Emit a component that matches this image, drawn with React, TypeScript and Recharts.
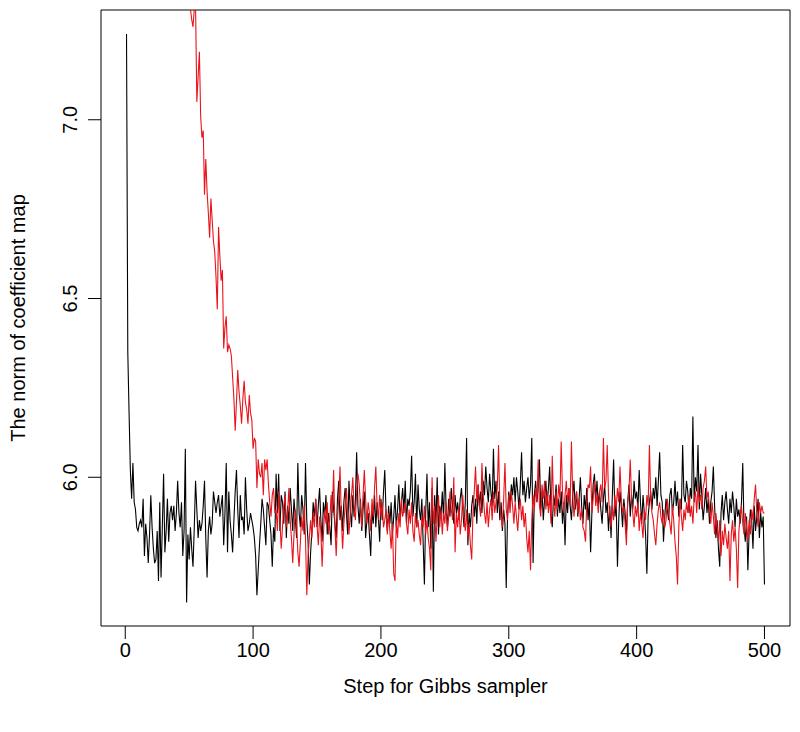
import React from 'react';
import { LineChart, Line, XAxis, YAxis, ReferenceArea, Label } from 'recharts';

// axis ticks
const xTicks = [0, 100, 200, 300, 400, 500];
const yTicks = [6.0, 6.5, 7.0];

// norm of the coefficient map, chain 1 (black)
const blackNorm = [
  7.24, 6.35, 6.18, 6.02, 5.94, 6.04, 5.93, 5.91, 5.86, 5.85,
  5.87, 5.88, 5.86, 5.94, 5.78, 5.87, 5.83, 5.76, 5.84, 5.95,
  5.86, 5.80, 5.76, 5.77, 5.85, 5.71, 5.93, 5.72, 5.86, 6.01,
  5.79, 5.85, 5.94, 5.82, 5.90, 5.92, 5.88, 5.92, 5.85, 5.90,
  5.99, 5.90, 5.86, 5.93, 5.78, 5.85, 6.08, 5.65, 5.84, 5.77,
  5.86, 5.80, 5.75, 5.86, 5.99, 5.91, 5.83, 5.88, 5.85, 5.87,
  5.92, 5.99, 5.83, 5.72, 5.85, 5.89, 5.84, 5.87, 5.96, 5.93,
  5.90, 5.93, 5.95, 5.89, 5.92, 5.95, 5.81, 5.90, 6.04, 5.79,
  5.96, 5.88, 5.84, 5.79, 5.88, 5.96, 6.02, 5.91, 5.83, 5.95,
  5.88, 5.89, 5.84, 6.00, 5.91, 5.85, 5.87, 5.90, 5.88, 5.86,
  5.83, 5.78, 5.67, 5.74, 5.81, 5.87, 5.94, 5.91, 5.86, 5.81,
  5.93, 5.92, 5.88, 5.84, 5.75, 5.86, 5.82, 6.01, 5.90, 6.01,
  5.85, 5.95, 5.93, 5.87, 5.96, 5.83, 5.92, 5.87, 5.97, 5.91,
  5.85, 5.94, 5.89, 5.83, 6.04, 5.90, 5.86, 5.95, 5.91, 5.84,
  6.04, 5.88, 5.82, 5.70, 5.79, 5.85, 5.93, 5.89, 5.94, 5.86,
  5.92, 5.97, 5.88, 5.82, 5.93, 5.89, 5.95, 5.84, 5.90, 5.86,
  5.81, 5.96, 5.91, 5.87, 5.83, 5.94, 5.99, 5.88, 5.92, 5.85,
  5.93, 5.97, 5.90, 5.84, 5.99, 5.91, 5.86, 5.95, 5.89, 5.93,
  6.07, 5.92, 5.87, 5.94, 5.85, 5.91, 5.96, 5.83, 5.88, 5.90,
  5.84, 5.78, 5.91, 5.87, 5.95, 5.86, 5.93, 5.89, 5.82, 5.94,
  5.88, 5.96, 6.02, 5.90, 5.85, 5.92, 5.87, 5.93, 5.84, 5.89,
  5.95, 5.86, 5.91, 5.98, 5.88, 5.93, 5.97, 5.90, 5.99, 5.87,
  5.94, 5.92, 5.96, 6.06, 5.89, 5.93, 6.01, 5.86, 5.98, 5.91,
  5.88, 5.94, 5.82, 5.70, 5.90, 6.01, 5.86, 5.93, 5.80, 5.97,
  5.68, 5.95, 5.87, 6.00, 5.84, 5.92, 5.89, 5.96, 5.88, 6.04,
  5.91, 5.86, 5.94, 5.89, 5.97, 5.92, 5.87, 5.95, 5.90, 5.93,
  5.88, 5.94, 5.97, 5.91, 5.86, 5.93, 6.11, 5.81, 5.90, 5.86,
  5.92, 5.95, 5.89, 5.94, 5.87, 5.98, 5.92, 5.96, 5.90, 5.99,
  5.95, 6.03, 5.97, 5.93, 6.01, 5.96, 5.92, 6.08, 5.94, 5.99,
  5.90, 5.96, 5.88, 5.93, 5.85, 5.91, 5.87, 5.69, 5.89, 5.96,
  5.92, 5.98, 5.95, 6.00, 5.93, 6.00, 5.96, 5.91, 5.98, 6.07,
  5.95, 5.99, 5.93, 5.97, 6.00, 5.94, 5.98, 6.11, 5.76, 5.95,
  5.99, 5.93, 5.97, 6.05, 5.91, 5.96, 5.88, 5.94, 5.99, 5.92,
  5.97, 6.03, 5.90, 5.86, 5.95, 5.92, 5.98, 5.89, 5.94, 5.90,
  5.96, 5.87, 5.93, 5.81, 5.95, 5.90, 5.97, 5.92, 5.88, 5.95,
  5.99, 5.91, 5.96, 5.89, 5.94, 6.00, 5.92, 5.87, 5.95, 5.91,
  5.97, 5.88, 5.93, 5.79, 5.90, 5.98, 6.01, 5.94, 5.99, 5.92,
  5.96, 5.91, 5.87, 5.94, 5.98, 5.90, 5.93, 5.85, 5.92, 5.83,
  5.95, 6.05, 5.89, 5.93, 5.75, 5.88, 5.96, 5.92, 5.86, 5.94,
  5.90, 5.84, 5.93, 5.98, 5.89, 5.95, 5.91, 5.99, 5.94, 5.96,
  5.91, 6.02, 5.93, 5.87, 5.95, 5.90, 5.84, 5.73, 5.89, 5.93,
  5.96, 5.91, 5.97, 5.94, 6.00, 5.92, 5.99, 6.07, 5.95, 5.93,
  5.82, 5.89, 5.94, 5.91, 5.88, 5.95, 5.97, 5.90, 5.93, 5.99,
  5.92, 5.96, 5.89, 5.94, 5.91, 6.09, 5.95, 5.93, 5.99, 5.96,
  5.90, 5.97, 5.94, 6.17, 5.93, 6.00, 5.96, 6.09, 5.91, 6.01,
  5.95, 5.88, 5.92, 5.97, 5.90, 5.94, 5.87, 5.93, 5.96, 6.03,
  5.92, 5.83, 5.88, 5.80, 5.75, 5.90, 5.95, 5.88, 5.93, 5.96,
  5.91, 5.87, 5.94, 5.90, 5.96, 5.92, 5.86, 5.94, 5.89, 5.91,
  5.87, 5.93, 6.04, 5.86, 5.82, 5.89, 5.74, 5.85, 5.91, 5.88,
  5.80, 5.92, 5.85, 5.89, 5.94, 5.83, 5.90, 5.86, 5.89, 5.70,
];

// chain 2 (red), starts far above the plotted range
const redNorm = [
  10.62, 10.41, 10.28, 10.06, 9.93, 9.81, 9.64, 9.55, 9.42, 9.30,
  9.22, 9.08, 8.99, 8.91, 8.80, 8.74, 8.63, 8.57, 8.48, 8.42,
  8.34, 8.29, 8.21, 8.15, 8.09, 8.03, 7.98, 7.93, 7.88, 7.84,
  7.79, 7.76, 7.71, 7.68, 7.64, 7.61, 7.58, 7.55, 7.52, 7.50,
  7.48, 7.45, 7.44, 7.41, 7.40, 7.38, 7.39, 7.36, 7.37, 7.32,
  7.31, 7.28, 7.26, 7.31, 7.32, 7.05, 7.12, 7.19, 7.01, 6.95,
  6.97, 6.79, 6.89, 6.80, 6.74, 6.67, 6.78, 6.72, 6.66, 6.63,
  6.56, 6.47, 6.70, 6.62, 6.55, 6.58, 6.36, 6.42, 6.45, 6.35,
  6.37, 6.36, 6.34, 6.28, 6.22, 6.13, 6.21, 6.30, 6.24, 6.20,
  6.15, 6.22, 6.27, 6.21, 6.19, 6.15, 6.23, 6.18, 6.16, 6.08,
  6.11, 6.10, 5.97, 6.05, 6.01, 6.00, 6.04, 5.95, 6.05, 6.02,
  6.05, 5.98, 5.93, 5.89, 5.95, 5.97, 5.90, 5.91, 5.85, 5.96,
  5.88, 5.80, 5.86, 5.92, 5.95, 5.86, 5.90, 5.97, 5.88, 5.83,
  5.76, 5.84, 5.91, 5.87, 5.79, 5.75, 5.82, 5.89, 5.85, 5.92,
  5.83, 5.67, 5.78, 5.83, 5.88, 5.83, 5.90, 5.86, 5.94, 5.87,
  5.81, 5.89, 5.85, 5.75, 5.84, 5.91, 5.87, 5.93, 5.84, 5.88,
  5.95, 5.90, 6.02, 5.86, 5.78, 5.88, 5.94, 6.03, 5.89, 5.80,
  5.87, 5.92, 5.97, 5.90, 5.84, 5.90, 5.95, 6.00, 5.91, 5.88,
  5.96, 6.01, 5.98, 5.92, 5.86, 5.95, 6.02, 5.94, 5.87, 5.93,
  5.90, 5.85, 5.94, 5.89, 5.97, 6.03, 5.92, 5.88, 5.95, 5.89,
  5.93, 5.86, 5.88, 5.91, 5.84, 5.90, 5.85, 5.80, 5.87, 5.73,
  5.71, 5.88, 5.83, 5.90, 5.86, 5.94, 5.89, 5.91, 5.93, 5.87,
  5.84, 5.91, 5.87, 5.93, 5.85, 5.82, 5.90, 5.86, 5.88, 5.84,
  5.81, 5.89, 5.86, 5.92, 5.84, 5.88, 5.83, 5.80, 5.74, 6.00,
  5.87, 5.92, 5.82, 5.89, 5.95, 5.86, 5.91, 5.84, 5.90, 5.87,
  5.93, 5.85, 5.89, 5.96, 5.91, 5.88, 6.00, 5.79, 5.90, 5.86,
  5.92, 5.84, 5.88, 5.95, 5.89, 5.85, 5.91, 5.83, 5.87, 5.81,
  5.77, 5.90, 5.96, 6.03, 5.93, 5.98, 5.92, 5.89, 6.04, 5.95,
  5.90, 5.87, 5.93, 5.86, 5.91, 5.94, 5.88, 5.96, 5.90, 5.93,
  5.97, 6.09, 5.92, 5.89, 5.86, 5.94, 6.04, 5.91, 5.88, 5.95,
  5.90, 5.96, 5.92, 5.87, 5.93, 5.89, 5.85, 5.91, 5.94, 5.88,
  5.92, 5.86, 5.90, 5.83, 5.79, 5.85, 5.74, 5.88, 5.95, 5.91,
  5.97, 5.93, 6.05, 5.92, 5.89, 5.98, 5.94, 5.99, 5.91, 5.96,
  5.90, 5.95, 5.87, 6.06, 5.93, 5.89, 5.96, 5.91, 5.98, 5.94,
  6.10, 5.96, 5.90, 5.95, 5.99, 5.93, 5.97, 5.92, 6.10, 5.95,
  5.89, 5.93, 5.96, 5.90, 5.94, 5.88, 5.91, 5.86, 5.85, 5.82,
  5.93, 5.98, 5.97, 6.03, 5.90, 5.94, 5.99, 5.92, 5.95, 5.90,
  5.96, 5.98, 5.93, 6.11, 5.97, 5.99, 6.09, 5.95, 5.89, 5.86,
  5.92, 5.88, 5.95, 5.91, 5.97, 5.93, 6.03, 5.94, 5.90, 5.92,
  5.87, 5.81, 5.93, 5.96, 6.05, 5.94, 5.90, 5.86, 5.92, 5.89,
  5.93, 5.85, 5.90, 5.87, 5.83, 5.91, 5.88, 5.95, 5.92, 6.09,
  5.94, 5.90, 5.88, 5.84, 5.81, 5.87, 5.91, 5.93, 5.89, 5.87,
  5.91, 5.86, 5.88, 5.94, 5.90, 5.87, 5.84, 5.92, 5.88, 5.82,
  5.78, 5.70, 5.86, 5.94, 5.89, 5.85, 5.91, 5.88, 5.93, 5.90,
  5.95, 5.89, 5.92, 5.87, 5.94, 5.96, 5.90, 5.98, 5.93, 5.95,
  5.91, 5.97, 5.99, 6.03, 5.94, 5.96, 5.91, 5.87, 5.93, 5.89,
  5.84, 5.90, 5.86, 5.82, 5.88, 5.78, 5.85, 5.81, 5.87, 5.83,
  5.80, 5.85, 5.71, 5.84, 5.88, 5.82, 5.86, 5.80, 5.69, 5.85,
  5.89, 5.92, 5.87, 5.84, 5.90, 5.86, 5.82, 5.88, 5.84, 5.91,
  5.88, 5.94, 5.98, 5.90, 5.86, 5.93, 5.90, 5.92, 5.90, 5.90,
];

const steps = blackNorm.map((_, i) => i + 1);

const data = steps.map((step, i) => ({
  step,
  black: blackNorm[i],
  red: redNorm[i],
}));

const FONT = '"Liberation Sans", Arial, Helvetica, sans-serif';

const XTick = ({ x, payload }: any) => (
  <text x={x} y={657} textAnchor="middle" fontSize={20} fontFamily={FONT} fill="#000">
    {payload.value}
  </text>
);

const YTick = ({ y, payload }: any) => (
  <text
    x={77}
    y={y}
    transform={`rotate(-90 77 ${y})`}
    textAnchor="middle"
    fontSize={20}
    fontFamily={FONT}
    fill="#000"
  >
    {Number(payload.value).toFixed(1)}
  </text>
);

export default function App() {
  return (
    <div style={{ position: 'absolute', left: 0, top: 0, width: 800, height: 732, background: '#fff' }}>
      <LineChart width={800} height={732} data={data} margin={{ top: 10, right: 10, left: 0, bottom: 0 }}>
        <XAxis
          dataKey="step"
          type="number"
          domain={[-18.96, 519.96]}
          ticks={xTicks}
          tickSize={13}
          height={106}
          axisLine={false}
          tickLine={{ stroke: '#000' }}
          tick={<XTick />}
          interval={0}
        >
          <Label
            content={() => (
              <text x={445.5} y={693} textAnchor="middle" fontSize={20} fontFamily={FONT} fill="#000">
                Step for Gibbs sampler
              </text>
            )}
          />
        </XAxis>
        <YAxis
          type="number"
          domain={[5.584, 7.307]}
          allowDataOverflow
          ticks={yTicks}
          tickSize={13}
          width={101}
          axisLine={false}
          tickLine={{ stroke: '#000' }}
          tick={<YTick />}
          interval={0}
        >
          <Label
            content={() => (
              <text
                x={25}
                y={318}
                transform="rotate(-90 25 318)"
                textAnchor="middle"
                fontSize={20}
                fontFamily={FONT}
                fill="#000"
              >
                The norm of coefficient map
              </text>
            )}
          />
        </YAxis>
        <ReferenceArea
          x1={-18.96}
          x2={519.96}
          y1={5.584}
          y2={7.307}
          fill="none"
          stroke="#000"
          strokeWidth={1}
          ifOverflow="visible"
        />
        <Line type="linear" dataKey="black" stroke="#000" strokeWidth={1.1} dot={false} isAnimationActive={false} />
        <Line type="linear" dataKey="red" stroke="#e8141c" strokeWidth={1.1} dot={false} isAnimationActive={false} />
      </LineChart>
    </div>
  );
}
